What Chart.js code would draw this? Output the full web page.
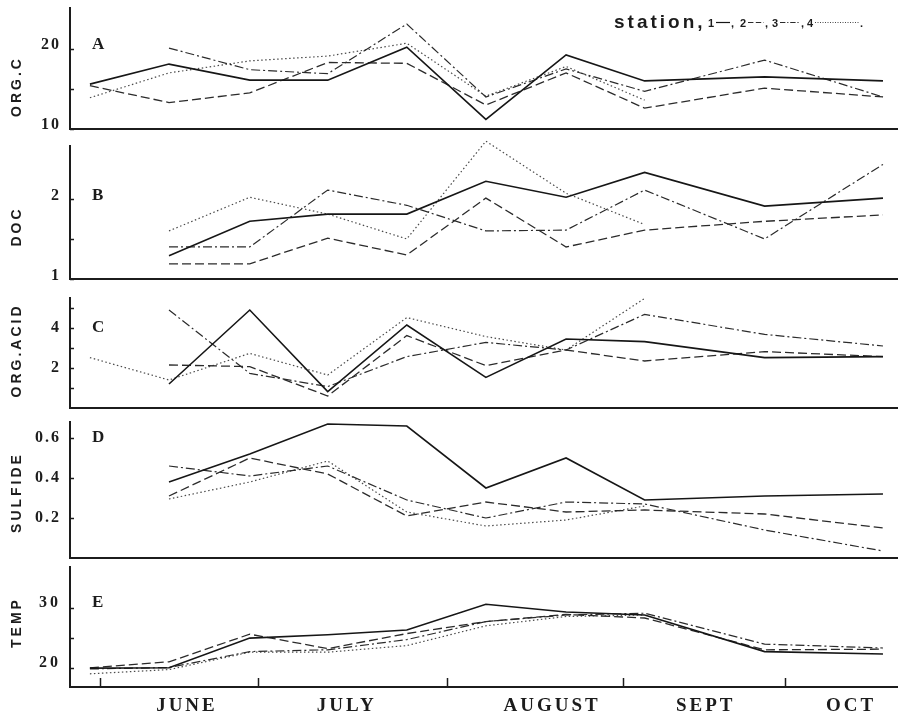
<!DOCTYPE html>
<html>
<head>
<meta charset="utf-8">
<script src="https://cdn.jsdelivr.net/npm/chart.js@4.4.1/dist/chart.umd.min.js"></script>
<style>
  html, body { margin: 0; padding: 0; background: #fff; }
  #wrap { position: relative; width: 901px; height: 718px; overflow: hidden; }
  #wrap canvas { position: absolute; left: 0; }
</style>
</head>
<body>
<div id="wrap">
  <canvas id="pA"></canvas>
  <canvas id="pB"></canvas>
  <canvas id="pC"></canvas>
  <canvas id="pD"></canvas>
  <canvas id="pE"></canvas>
</div>
<script>
// sampling dates, in days counted from 1 June
const sampleDays = [-1.8, 12.3, 26.7, 40.6, 54.7, 68.8, 83.1, 97.1, 118.5, 139.6]
const monthNames = ['JUNE', 'JULY', 'AUGUST', 'SEPT', 'OCT']
const monthMid = [15.5, 44.0, 80.6, 108.0, 133.9]
const monthStart = [0, 28.2, 61.9, 93.2, 122.1]
const stations = ['1', '2', '3', '4']

// A  organic carbon
const orgC1 = [15.6, 18.1, 16.1, 16.1, 20.2, 11.2, 19.25, 16.0, 16.5, 16.0]
const orgC2 = [15.4, 13.3, 14.5, 18.3, 18.2, 13.0, 17.0, 12.6, 15.1, 14.0]
const orgC3 = [null, 20.1, 17.4, 16.9, 23.1, 14.0, 17.5, 14.7, 18.6, 14.0]
const orgC4 = [13.9, 17.0, 18.5, 19.1, 20.7, 14.1, 17.8, 13.6, null, null]
const orgCTicks = [10, 15, 20]
const orgCLabels = [10, 20]

// B  DOC
const doc1 = [null, 1.29, 1.72, 1.81, 1.81, 2.22, 2.02, 2.33, 1.91, 2.01]
const doc2 = [null, 1.19, 1.19, 1.51, 1.30, 2.01, 1.40, 1.61, 1.72, 1.80]
const doc3 = [null, 1.40, 1.40, 2.11, 1.92, 1.60, 1.61, 2.11, 1.50, 2.43]
const doc4 = [null, 1.60, 2.02, 1.81, 1.50, 2.72, 2.07, 1.68, null, null]
const docTicks = [1, 1.5, 2]
const docLabels = [1, 2]

// C  organic acid
const acid1 = [null, 1.2, 4.9, 0.82, 4.15, 1.53, 3.45, 3.32, 2.52, 2.57]
const acid2 = [null, 2.15, 2.07, 0.6, 3.62, 2.12, 2.9, 2.35, 2.82, 2.57]
const acid3 = [null, 4.9, 1.73, 1.07, 2.57, 3.28, 2.9, 4.68, 3.68, 3.1]
const acid4 = [2.52, 1.4, 2.73, 1.65, 4.52, 3.57, 2.9, 5.48, null, null]
const acidTicks = [1, 2, 3, 4, 5]
const acidLabels = [2, 4]

// D  sulfide
const sulf1 = [null, 0.38, 0.52, 0.67, 0.66, 0.35, 0.50, 0.29, 0.31, 0.32]
const sulf2 = [null, 0.31, 0.50, 0.42, 0.21, 0.28, 0.23, 0.24, 0.22, 0.15]
const sulf3 = [null, 0.46, 0.41, 0.46, 0.29, 0.20, 0.28, 0.27, 0.14, 0.035]
const sulf4 = [null, 0.295, 0.38, 0.485, 0.23, 0.16, 0.19, 0.26, null, null]
const sulfTicks = [0.2, 0.4, 0.6]
const sulfLabels = [0.2, 0.4, 0.6]

// E  temperature
const temp1 = [19.95, 20.0, 24.95, 25.5, 26.3, 30.6, 29.3, 28.8, 22.7, 22.3]
const temp2 = [20.0, 21.0, 25.6, 23.2, 25.7, 27.7, 28.9, 28.3, 23.0, 23.1]
const temp3 = [19.8, 20.05, 22.7, 23.0, 24.7, 27.7, 28.8, 29.1, 23.95, 23.3]
const temp4 = [19.0, 19.7, 22.6, 22.6, 23.7, 27.0, 28.55, 28.8, null, null]
const tempTicks = [20, 25, 30]
const tempLabels = [20, 30]

const lineStyles = [
  { borderColor: '#161616', borderWidth: 1.6, borderDash: [] },
  { borderColor: '#2b2b2b', borderWidth: 1.3, borderDash: [9, 4] },
  { borderColor: '#2b2b2b', borderWidth: 1.2, borderDash: [9, 3, 2, 3] },
  { borderColor: '#4a4a4a', borderWidth: 1.2, borderDash: [1.5, 2.5] }
]

const panels = [
  { id: 'pA', top: 0, height: 139, xH: 10, min: 10, max: 25.1, series: [orgC1, orgC2, orgC3, orgC4],
    ticks: orgCTicks, labels: orgCLabels, offset: -4, letter: 'A', title: 'ORG.C', titleY: 88, legend: true },
  { id: 'pB', top: 138, height: 151, xH: 10, min: 1, max: 2.66, series: [doc1, doc2, doc3, doc4],
    ticks: docTicks, labels: docLabels, offset: -3, letter: 'B', title: 'DOC', titleY: 228 },
  { id: 'pC', top: 290, height: 128, xH: 10, min: 0, max: 5.5, series: [acid1, acid2, acid3, acid4],
    ticks: acidTicks, labels: acidLabels, offset: 0, letter: 'C', title: 'ORG.ACID', titleY: 352 },
  { id: 'pD', top: 414, height: 154, xH: 10, min: 0, max: 0.68, series: [sulf1, sulf2, sulf3, sulf4],
    ticks: sulfTicks, labels: sulfLabels, offset: 0, letter: 'D', title: 'SULFIDE', titleY: 494 },
  { id: 'pE', top: 559, height: 159, xH: 31, min: 16.8, max: 36.8, series: [temp1, temp2, temp3, temp4],
    ticks: tempTicks, labels: tempLabels, offset: -5, letter: 'E', title: 'TEMP', titleY: 624, months: true }
]

const ink = '#1c1c1c'

const noPad = s => {
  s.paddingTop = 0
  s.paddingBottom = 0
  s.paddingLeft = 0
  s.paddingRight = 0
}

const deco = {
  id: 'deco',
  beforeDraw(chart, args, opts) {
    chart.ctx.letterSpacing = opts.months ? '3px' : '2px'
  },
  afterDraw(chart, args, opts) {
    const ctx = chart.ctx
    const ca = chart.chartArea
    const xs = chart.scales.x
    const ys = chart.scales.y
    ctx.save()
    ctx.strokeStyle = ink
    ctx.fillStyle = ink
    ctx.setLineDash([])

    // small inner ticks on the value axis
    ctx.lineWidth = 1.5
    opts.ticks.forEach(v => {
      const y = Math.round(ys.getPixelForValue(v)) + 0.5
      ctx.beginPath()
      ctx.moveTo(ca.left, y)
      ctx.lineTo(ca.left + 4, y)
      ctx.stroke()
    })

    // month boundary ticks
    if (opts.months) {
      monthStart.forEach(v => {
        const x = Math.round(xs.getPixelForValue(v)) + 0.5
        ctx.beginPath()
        ctx.moveTo(x, ca.bottom)
        ctx.lineTo(x, ca.bottom - 9)
        ctx.stroke()
      })
    }

    // panel letter, level with the top labelled tick
    const topLab = opts.labels[opts.labels.length - 1]
    ctx.letterSpacing = '0px'
    ctx.font = 'bold 17px "Liberation Serif"'
    ctx.textAlign = 'left'
    ctx.textBaseline = 'middle'
    ctx.fillText(opts.letter, ca.left + 22, ys.getPixelForValue(topLab) + opts.offset)

    // rotated axis title
    ctx.save()
    ctx.translate(17, opts.titleY - opts.top)
    ctx.rotate(-Math.PI / 2)
    ctx.font = 'bold 14px "Liberation Sans"'
    ctx.letterSpacing = '3px'
    ctx.textAlign = 'center'
    ctx.fillText(opts.title, 1.5, 0)
    ctx.restore()

    if (opts.legend) {
      ctx.letterSpacing = '3px'
      ctx.font = 'bold 19px "Liberation Sans"'
      ctx.textBaseline = 'alphabetic'
      ctx.fillText('station,', 614, 28)
      ctx.letterSpacing = '0px'
      ctx.font = 'bold 11px "Liberation Sans"'
      const legX = [708, 740, 772, 807]
      const legLen = [14, 16, 20, 44]
      chart.data.datasets.forEach((ds, i) => {
        const x0 = legX[i]
        ctx.fillText(stations[i], x0, 27)
        ctx.beginPath()
        ctx.setLineDash(ds.borderDash.map(d => Math.max(1, d * 0.6)))
        ctx.lineWidth = 1.2
        ctx.strokeStyle = ds.borderColor
        ctx.moveTo(x0 + 8, 22.5)
        ctx.lineTo(x0 + 8 + legLen[i], 22.5)
        ctx.stroke()
        ctx.setLineDash([])
        ctx.fillText(i < 3 ? ',' : '.', x0 + 9 + legLen[i], 27)
      })
    }
    ctx.restore()
  }
}

panels.forEach(p => {
  const cv = document.getElementById(p.id)
  cv.width = 901
  cv.height = p.height
  cv.style.top = p.top + 'px'

  const datasets = p.series.map((vals, i) => ({
    label: 'station ' + stations[i],
    data: sampleDays.map((d, k) => ({ x: d, y: vals[k] })).filter(pt => pt.y !== null),
    pointRadius: 0,
    tension: 0,
    fill: false,
    clip: false,
    ...lineStyles[i]
  }))

  new Chart(cv.getContext('2d'), {
    type: 'line',
    data: { datasets },
    plugins: [deco],
    options: {
      responsive: false,
      animation: false,
      events: [],
      layout: { padding: { top: 8, right: 4, left: 0, bottom: 0 } },
      scales: {
        x: {
          type: 'linear',
          min: -5.35,
          max: 142.1,
          afterFit: s => { s.height = p.xH; noPad(s) },
          afterBuildTicks: s => { s.ticks = monthMid.map(v => ({ value: v })) },
          grid: { display: false, drawTicks: false },
          border: { display: true, color: ink, width: 2 },
          ticks: {
            display: !!p.months,
            autoSkip: false,
            maxRotation: 0,
            padding: 8,
            color: ink,
            font: { family: '"Liberation Serif"', weight: 'bold', size: 19 },
            callback: (v, i) => monthNames[i]
          }
        },
        y: {
          type: 'linear',
          min: p.min,
          max: p.max,
          afterFit: s => { s.width = 70; noPad(s) },
          afterBuildTicks: s => { s.ticks = p.ticks.map(v => ({ value: v })) },
          grid: { display: false, drawTicks: false },
          border: { display: true, color: ink, width: 2 },
          ticks: {
            padding: 9,
            labelOffset: p.offset,
            color: ink,
            font: { family: '"Liberation Serif"', weight: 'bold', size: 16 },
            callback: v => p.labels.includes(v) ? String(v) : ''
          }
        }
      },
      plugins: {
        legend: { display: false },
        tooltip: { enabled: false },
        deco: {
          ticks: p.ticks, labels: p.labels, offset: p.offset, letter: p.letter,
          title: p.title, titleY: p.titleY, top: p.top, legend: !!p.legend, months: !!p.months
        }
      }
    }
  })
})
</script>
</body>
</html>
